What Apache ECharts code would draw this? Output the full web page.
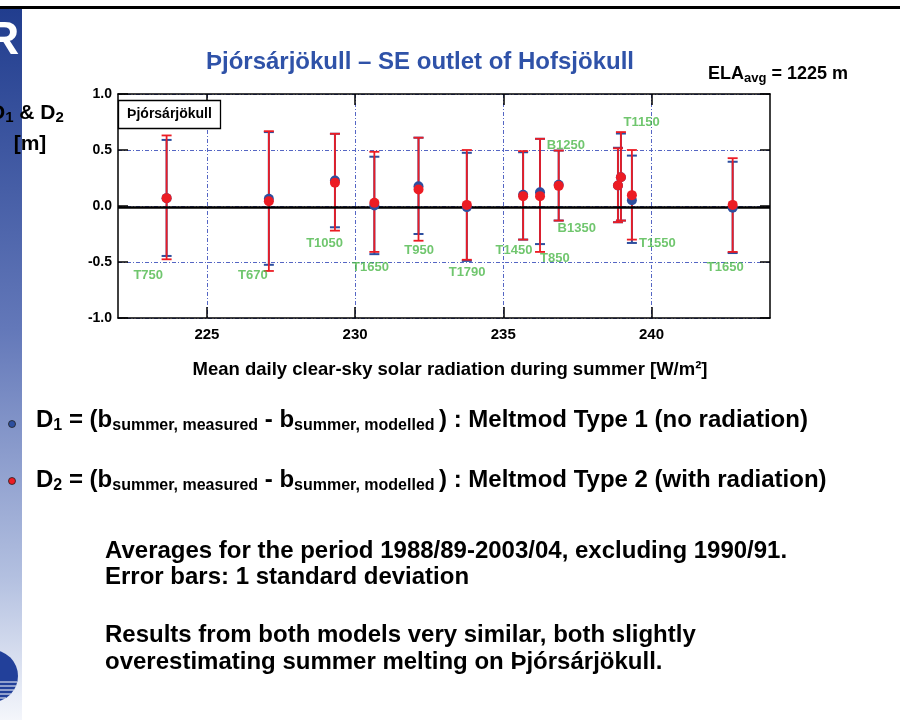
<!DOCTYPE html>
<html><head><meta charset="utf-8">
<script src="https://cdn.jsdelivr.net/npm/echarts@6/dist/echarts.min.js"></script>
<style>html,body{margin:0;padding:0;background:#fff}#c{width:900px;height:720px}</style>
</head><body><div id="c"></div>
<script>
// ---- data ----
const sites     = ['T750','T670','T1050','T1650','T950','T1790','T1450','T850','B1250','B1350','T1150','T1550','T1650'];
const radiation = [223.64, 227.09, 229.32, 230.65, 232.14, 233.77, 235.67, 236.24, 236.87, 238.87, 238.97, 239.34, 242.74];
const d1        = [0.070, 0.064, 0.228, 0.005, 0.177, -0.010, 0.100, 0.123, 0.190, 0.183, 0.257, 0.052, -0.016];
const d1Low     = [-0.446, -0.525, -0.190, -0.430, -0.250, -0.490, -0.300, -0.340, -0.130, -0.145, -0.130, -0.330, -0.420];
const d1High    = [0.590, 0.660, 0.645, 0.440, 0.610, 0.475, 0.480, 0.600, 0.495, 0.520, 0.647, 0.450, 0.395];
const d2        = [0.070, 0.043, 0.207, 0.029, 0.147, 0.010, 0.088, 0.088, 0.180, 0.183, 0.257, 0.097, 0.010];
const d2Low     = [-0.476, -0.580, -0.220, -0.410, -0.310, -0.480, -0.300, -0.410, -0.130, -0.145, -0.130, -0.300, -0.410];
const d2High    = [0.630, 0.668, 0.645, 0.484, 0.610, 0.500, 0.490, 0.600, 0.495, 0.515, 0.660, 0.500, 0.427];
// site label anchors (data units)
const labelX    = [223.02, 226.55, 228.97, 230.52, 232.16, 233.78, 235.36, 236.74, 237.11, 237.48, 239.67, 240.20, 242.49];
const labelY    = [-0.62, -0.62, -0.335, -0.55, -0.40, -0.59, -0.40, -0.47, 0.54, -0.20, 0.745, -0.335, -0.55];
const xTicks    = [225, 230, 235, 240];
const noteLines = ['Averages for the period 1988/89-2003/04, excluding 1990/91.',
                   'Error bars: 1 standard deviation',
                   'Results from both models very similar, both slightly',
                   'overestimating summer melting on Þjórsárjökull.'];

// ---- styles ----
const FONT = '"Liberation Sans", Arial, sans-serif';
const BLUE = '#2d4f9f', RED = '#ec1c24', GREEN = '#4cb84a', GRID = '#5566c4';
const noteY = [551, 577, 635, 662];

const chart = echarts.init(document.getElementById('c'), null, {renderer:'canvas'});

function errRender(color, capHalf, width){
  return function(params, api){
    const x = api.value(0), lo = api.value(1), hi = api.value(2);
    const a = api.coord([x, lo]), b = api.coord([x, hi]);
    const st = {stroke: color, lineWidth: width};
    return {type:'group', children:[
      {type:'line', shape:{x1:a[0], y1:a[1], x2:b[0], y2:b[1]}, style:st},
      {type:'line', shape:{x1:a[0]-capHalf, y1:a[1], x2:a[0]+capHalf, y2:a[1]}, style:st},
      {type:'line', shape:{x1:b[0]-capHalf, y1:b[1], x2:b[0]+capHalf, y2:b[1]}, style:st}
    ]};
  };
}

const xMin = 222, xMax = 244;
const axisTxt = {color:'#000', fontWeight:'bold', fontFamily:FONT};

const richSub = (col, main, sub, mainLH, subLH) => ({
  m:{fontSize:main, fontWeight:'bold', color:col, fontFamily:FONT, lineHeight:mainLH, verticalAlign:'top'},
  s:{fontSize:sub, fontWeight:'bold', color:col, fontFamily:FONT, lineHeight:subLH || 14, verticalAlign:'bottom'}
});

const option = {
  animation:false,
  backgroundColor:'#fff',
  grid:{left:118, right:130, top:94, bottom:402, containLabel:false},
  xAxis:[{
    type:'value', min:xMin, max:xMax, position:'bottom',
    axisLine:{show:true, onZero:false, lineStyle:{color:'#000', width:1.5}},
    axisTick:{show:true, inside:true, length:11, lineStyle:{color:'#000', width:1.5},
      customValues: xTicks},
    axisLabel:Object.assign({fontSize:15, margin:9, customValues: xTicks,
      formatter:v => xTicks.indexOf(v) >= 0 ? String(v) : ''}, axisTxt),
    splitLine:{show:true, lineStyle:{color:GRID, width:1, type:[4,2,1,2]}},
    name:'Mean daily clear-sky solar radiation during summer [W/m²]',
    nameLocation:'middle', nameGap:42,
    nameTextStyle:Object.assign({fontSize:18.5, padding:[0,0,0,12]}, axisTxt)
  },{
    type:'value', min:xMin, max:xMax, position:'top',
    axisLine:{show:true, onZero:false, lineStyle:{color:'#000', width:1.5}},
    axisTick:{show:true, inside:true, length:11, lineStyle:{color:'#000', width:1.5}, customValues: xTicks},
    axisLabel:{show:false}, splitLine:{show:false}
  }],
  yAxis:[{
    type:'value', min:-1, max:1, interval:0.5, position:'left',
    axisLine:{show:true, onZero:false, lineStyle:{color:'#000', width:1.5}},
    axisTick:{show:true, inside:true, length:10, lineStyle:{color:'#000', width:1.5}},
    axisLabel:Object.assign({fontSize:14, margin:6, formatter:v => v.toFixed(1)}, axisTxt),
    splitLine:{show:true, lineStyle:{color:GRID, width:1, type:[4,2,1,2]}}
  },{
    type:'value', min:-1, max:1, interval:0.5, position:'right',
    axisLine:{show:true, onZero:false, lineStyle:{color:'#000', width:1.5}},
    axisTick:{show:true, inside:true, length:10, lineStyle:{color:'#000', width:1.5}},
    axisLabel:{show:false}, splitLine:{show:false}
  }],
  series:[
    {
      type:'line', data:[], silent:true,
      markLine:{silent:true, symbol:'none', label:{show:false},
        lineStyle:{color:'#000', width:2.5, type:'solid'},
        data:[{yAxis:-0.012}]},
      z:2
    },
    {
      type:'custom', name:'D1 err', z:3,
      renderItem: errRender(BLUE, 5, 2),
      encode:{x:0, y:[1,2]},
      data: radiation.map((x,i) => [x, d1Low[i], d1High[i]])
    },
    {
      type:'custom', name:'D2 err', z:4,
      renderItem: errRender(RED, 5, 1.8),
      encode:{x:0, y:[1,2]},
      data: radiation.map((x,i) => [x, d2Low[i], d2High[i]])
    },
    {
      type:'scatter', name:'D1', z:5, symbol:'circle', symbolSize:10,
      itemStyle:{color:BLUE, opacity:1},
      data: radiation.map((x,i) => [x, d1[i]])
    },
    {
      type:'scatter', name:'D2', z:6, symbol:'circle', symbolSize:10,
      itemStyle:{color:RED, opacity:1},
      data: radiation.map((x,i) => [x, d2[i]])
    },
    {
      type:'scatter', name:'sites', z:7, symbolSize:0, silent:true,
      label:{show:true, position:'inside', color:GREEN, fontSize:13, fontWeight:'bold', fontFamily:FONT,
        formatter:p => sites[p.dataIndex]},
      data: labelX.map((x,i) => [x, labelY[i]])
    }
  ],
  graphic:[
    // top rule
    {type:'rect', shape:{x:0, y:6, width:900, height:3}, style:{fill:'#000'}, z:100},
    // left band
    {type:'rect', shape:{x:0, y:9, width:22, height:711}, z:100,
      style:{fill:new echarts.graphic.LinearGradient(0,0,0,1,[
        {offset:0, color:'#213d8e'},{offset:0.45, color:'#6378b9'},
        {offset:0.8, color:'#b3c0e0'},{offset:1, color:'#f4f6fb'}])}},
    {type:'text', x:-14, y:18, z:101, style:{text:'R', fill:'#fff', font:'bold 46px '+FONT}},
    // logo
    {type:'circle', shape:{cx:-8, cy:676, r:26}, z:101, style:{fill:'#22409a'}},
    {type:'line', shape:{x1:0, y1:682, x2:17, y2:682}, z:102, style:{stroke:'#fff', lineWidth:1}},
    {type:'line', shape:{x1:0, y1:686, x2:16, y2:686}, z:102, style:{stroke:'#fff', lineWidth:1}},
    {type:'line', shape:{x1:0, y1:690, x2:14, y2:690}, z:102, style:{stroke:'#fff', lineWidth:1}},
    {type:'line', shape:{x1:0, y1:694, x2:11, y2:694}, z:102, style:{stroke:'#fff', lineWidth:1}},
    {type:'line', shape:{x1:0, y1:698, x2:6, y2:698}, z:102, style:{stroke:'#fff', lineWidth:1}},
    // title
    {type:'text', x:420, y:62, z:100, style:{text:'Þjórsárjökull – SE outlet of Hofsjökull',
      fill:'#2f52a8', font:'bold 24px '+FONT, textAlign:'center', textVerticalAlign:'middle'}},
    // ELA
    {type:'text', x:708, y:65, z:100, style:{text:'{m|ELA}{s|avg}{m| = 1225 m}',
      textVerticalAlign:'top', rich:richSub('#000', 18, 13, 20, 14)}},
    // y-axis name
    {type:'text', x:-10, y:103, z:105, style:{text:'{m|D}{s|1}{m| & D}{s|2}',
      textVerticalAlign:'top', rich:richSub('#000', 21, 15, 22, 12)}},
    {type:'text', x:30, y:144, z:105, style:{text:'[m]', fill:'#000', font:'bold 21px '+FONT,
      textAlign:'center', textVerticalAlign:'middle'}},
    // inset label box
    {type:'rect', shape:{x:118.5, y:100.5, width:102, height:28}, z:50,
      style:{fill:'#fff', stroke:'#000', lineWidth:1.3}},
    {type:'text', x:169.5, y:114.5, z:51, style:{text:'Þjórsárjökull', fill:'#000',
      font:'bold 14px '+FONT, textAlign:'center', textVerticalAlign:'middle'}},
    // bullets
    {type:'circle', shape:{cx:12, cy:424, r:3.5}, z:110, style:{fill:BLUE, stroke:'#222', lineWidth:0.8}},
    {type:'circle', shape:{cx:12, cy:481, r:3.5}, z:110, style:{fill:RED, stroke:'#222', lineWidth:0.8}},
    {type:'text', x:36, y:408, z:100, style:{
      text:'{m|D}{s|1}{m| = (b}{s|summer, measured}{m| - b}{s|summer, modelled }{m|) : Meltmod Type 1 (no radiation)}',
      textVerticalAlign:'top', rich:richSub(BLUE, 24, 16, 26, 14)}},
    {type:'text', x:36, y:468, z:100, style:{
      text:'{m|D}{s|2}{m| = (b}{s|summer, measured}{m| - b}{s|summer, modelled }{m|) : Meltmod Type 2 (with radiation)}',
      textVerticalAlign:'top', rich:richSub(RED, 24, 16, 26, 14)}}
  ].concat(noteLines.map((t,i) => ({
      type:'text', x:105, y:noteY[i], z:100,
      style:{text:t, fill:'#000', font:'bold 24px '+FONT, textVerticalAlign:'middle'}
  })))
};
chart.setOption(option);
</script></body></html>
